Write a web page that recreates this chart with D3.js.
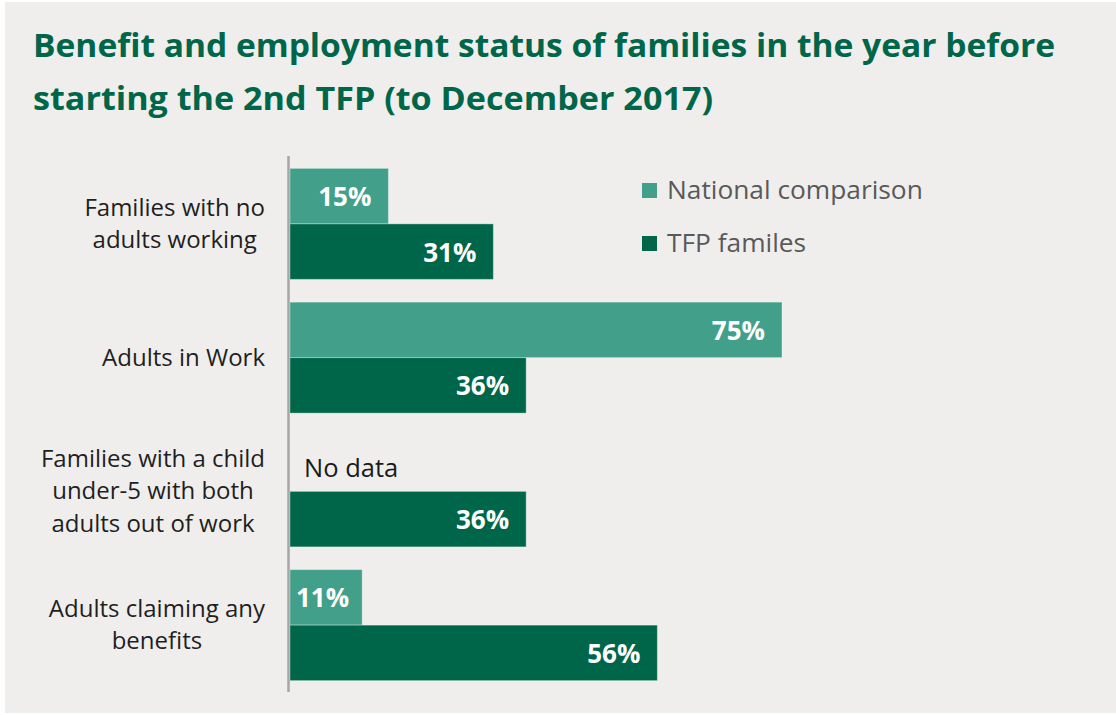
<!DOCTYPE html>
<html>
<head>
<meta charset="utf-8">
<script src="https://cdn.jsdelivr.net/npm/d3@7"></script>
<style>
  html, body { margin: 0; padding: 0; background: #ffffff; }
  svg { display: block; }
</style>
</head>
<body>
<svg id="chart" width="1116" height="715"></svg>
<script>
// Category labels (one entry per line) and series values
const categories = [
  ["Families with no", "adults working"],
  ["Adults in Work"],
  ["Families with a child", "under-5 with both", "adults out of work"],
  ["Adults claiming any", "benefits"]
];
const seriesNames = ["National comparison", "TFP familes"];
const nationalValues = [15, 75, null, 11];
const tfpValues = [31, 36, 36, 56];
const missingLabel = "No data";
const titleLines = [
  "Benefit and employment status of families in the year before",
  "starting the 2nd TFP (to December 2017)"
];
const titleWidths = [1022, 680];

const colors = ["#429f89", "#006649"];
const W = 1116, H = 715;
const svg = d3.select("#chart");

// panel background
svg.append("rect").attr("x", 5).attr("y", 2).attr("width", W - 5).attr("height", 711)
  .attr("fill", "#efeeec");

// title
const title = svg.append("text")
  .attr("font-family", "'Open Sans', sans-serif")
  .attr("font-weight", 700).attr("font-size", 32.5).attr("fill", "#006649");
titleLines.forEach((t, i) => {
  title.append("tspan").attr("x", 33).attr("y", 57 + i * 53)
    .attr("textLength", titleWidths[i]).attr("lengthAdjust", "spacingAndGlyphs").text(t);
});

// layout
const x0 = 290;
const x = d3.scaleLinear().domain([0, 75]).range([x0, 782]);
const y = d3.scaleBand().domain(d3.range(categories.length)).range([157, 692]).paddingInner(0.17).paddingOuter(0.085);
const ySub = d3.scaleBand().domain([0, 1]).range([0, y.bandwidth()]);

const rows = categories.map((c, i) => ({ i, values: [nationalValues[i], tfpValues[i]] }));

const g = svg.append("g");
const bars = [];
rows.forEach(r => r.values.forEach((v, s) => bars.push({ i: r.i, s, v })));

g.selectAll("rect.bar").data(bars.filter(d => d.v != null)).join("rect")
  .attr("class", "bar")
  .attr("x", x0)
  .attr("y", d => y(d.i) + ySub(d.s))
  .attr("width", d => x(d.v) - x0)
  .attr("height", ySub.bandwidth())
  .attr("fill", d => colors[d.s])
  .attr("stroke", "#ffffff").attr("stroke-opacity", 0.35).attr("stroke-width", 1);

// value labels inside the bar ends
const valLabels = g.selectAll("text.val").data(bars.filter(d => d.v != null)).join("text")
  .attr("class", "val")
  .attr("font-family", "'Open Sans', sans-serif").attr("font-weight", 700)
  .attr("font-size", 26).attr("fill", "#ffffff")
  .attr("y", d => y(d.i) + ySub(d.s) + ySub.bandwidth() / 2 + 10)
  .text(d => d.v + "%");
valLabels.each(function(d) {
  const w = this.getComputedTextLength();
  const end = x(d.v) - 17;
  const left = Math.max(end - w, x0 + 6);
  d3.select(this).attr("x", left);
});

// missing-value note
g.selectAll("text.miss").data(bars.filter(d => d.v == null)).join("text")
  .attr("class", "miss")
  .attr("font-family", "'Open Sans', sans-serif").attr("font-size", 25.5).attr("fill", "#1a1a1a")
  .attr("x", x0 + 14)
  .attr("y", d => y(d.i) + ySub(d.s) + ySub.bandwidth() / 2 + 13)
  .text(missingLabel);

// vertical axis line
svg.append("line").attr("x1", 288.5).attr("x2", 288.5).attr("y1", 156).attr("y2", 692)
  .attr("stroke", "#a6a6a6").attr("stroke-width", 2.5);

// category labels: lines centered on each other, block right-aligned
const lineH = 32.5;
categories.forEach((lines, i) => {
  const cy = y(i) + y.bandwidth() / 2;
  const t = svg.append("text")
    .attr("font-family", "'Open Sans', sans-serif").attr("font-size", 24).attr("fill", "#1f1f1f")
    .attr("text-anchor", "middle");
  const spans = lines.map((l, k) => t.append("tspan")
    .attr("y", cy + 8 + (k - (lines.length - 1) / 2) * lineH).text(l));
  const maxW = d3.max(spans, s => s.node().getComputedTextLength());
  spans.forEach(s => s.attr("x", 265 - maxW / 2));
});

// legend
const leg = svg.append("g").attr("transform", "translate(642,183)");
seriesNames.forEach((n, k) => {
  leg.append("rect").attr("x", 0).attr("y", k * 53).attr("width", 15).attr("height", 15).attr("fill", colors[k]);
  leg.append("text").attr("x", 25).attr("y", k * 53 + 16)
    .attr("font-family", "'Open Sans', sans-serif").attr("font-size", 26.3).attr("fill", "#595959")
    .text(n);
});
</script>
</body>
</html>
